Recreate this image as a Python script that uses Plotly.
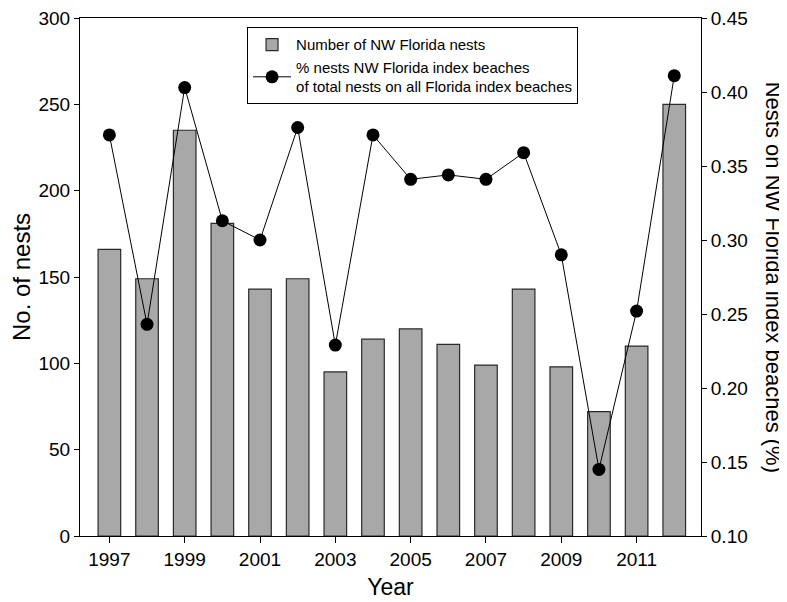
import plotly.graph_objects as go

years = list(range(1997, 2013))
nests = [166, 149, 235, 181, 143, 149, 95, 114, 120, 111, 99, 143, 98, 72, 110, 250]
pct = [0.371, 0.243, 0.403, 0.313, 0.300, 0.376, 0.229, 0.371, 0.341, 0.344, 0.341,
       0.359, 0.290, 0.145, 0.252, 0.411]
x_ticks = [1997, 1999, 2001, 2003, 2005, 2007, 2009, 2011]
left_ticks = [0, 50, 100, 150, 200, 250, 300]
right_ticks = [0.10, 0.15, 0.20, 0.25, 0.30, 0.35, 0.40, 0.45]

FONT = "Liberation Sans, Arial, sans-serif"

fig = go.Figure()
fig.add_trace(go.Bar(
    x=years, y=nests, width=0.6, name="Number of NW Florida nests",
    marker=dict(color="#a8a8a8", line=dict(color="#2a2a2a", width=1.2)),
))
fig.add_trace(go.Scatter(
    x=years, y=pct, yaxis="y2", mode="lines+markers",
    name="% nests NW Florida index beaches<br>of total nests on all Florida index beaches",
    line=dict(color="black", width=1),
    marker=dict(color="black", size=13),
))

fig.update_layout(
    width=779, height=594,
    margin=dict(l=72, r=86, t=10, b=66, autoexpand=False),
    paper_bgcolor="white", plot_bgcolor="white",
    font=dict(family=FONT, color="black"),
    showlegend=True,
    legend=dict(
        x=0.269, y=0.982, xanchor="left", yanchor="top",
        bordercolor="black", borderwidth=1, bgcolor="white",
        font=dict(size=15, family=FONT), tracegroupgap=2, itemwidth=38,
    ),
    xaxis=dict(
        range=[1996.22, 2012.71], tickvals=x_ticks, ticktext=[str(v) for v in x_ticks],
        ticks="outside", ticklen=6, tickcolor="black", showline=True, linecolor="black",
        mirror=True, showgrid=False, zeroline=False, tickfont=dict(size=19),
        automargin=False, ticklabeloverflow="allow",
        title=dict(text="Year", font=dict(size=23), standoff=10),
    ),
    yaxis=dict(
        range=[0, 300], tickvals=left_ticks, ticks="outside", ticklen=5, tickcolor="black",
        showline=True, linecolor="black", showgrid=False, zeroline=False,
        tickfont=dict(size=19), automargin=False, ticklabeloverflow="allow",
        title=dict(text="No. of nests", font=dict(size=24), standoff=8),
    ),
    yaxis2=dict(
        range=[0.10, 0.45], tickvals=right_ticks, tickformat=".2f", overlaying="y",
        side="right", ticks="outside", ticklen=5, tickcolor="black", showline=True,
        linecolor="black", showgrid=False, zeroline=False, tickfont=dict(size=19),
        automargin=False, ticklabeloverflow="allow",
    ),
    bargap=0.4,
)

fig.add_annotation(
    text="Nests on NW Florida index beaches (%)", textangle=90,
    xref="paper", yref="paper", x=1.118, y=0.5, xanchor="center", yanchor="middle",
    showarrow=False, font=dict(size=22, family=FONT),
)

fig.write_html("out.html")
